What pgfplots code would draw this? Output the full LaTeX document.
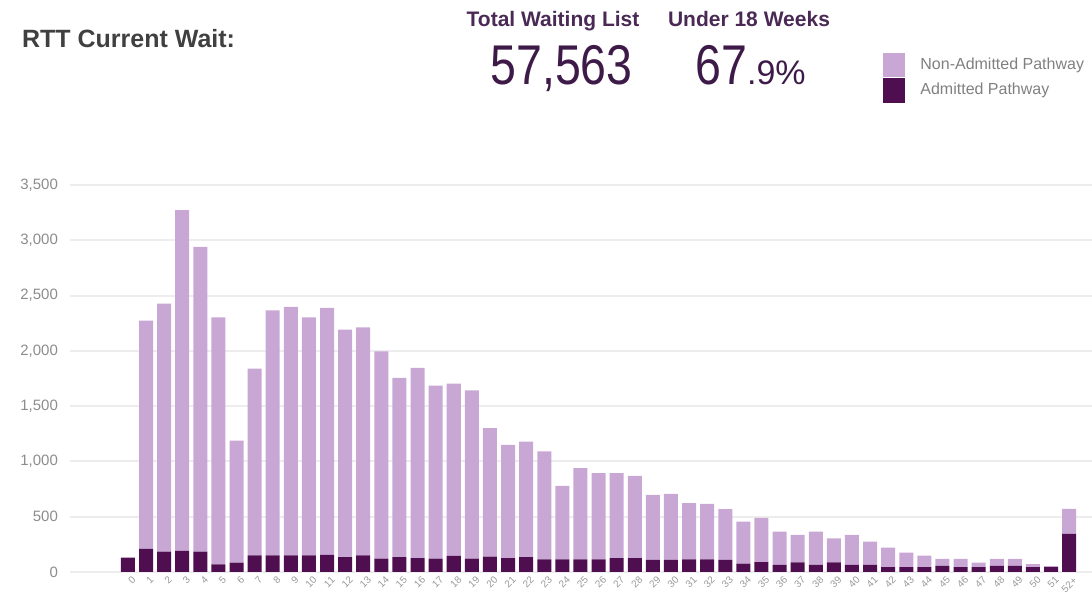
\documentclass[border=0pt]{standalone}
\usepackage{fontspec}
\setmainfont{Liberation Sans}
\usepackage{graphicx}
\usepackage{pgfplots}
\usepackage{pgfplotstable}
\pgfplotsset{compat=1.18}

\definecolor{nonadm}{HTML}{C9A7D4}
\definecolor{adm}{HTML}{4E0E50}
\definecolor{titlepurple}{HTML}{4A2A55}
\definecolor{numpurple}{HTML}{3E1A48}

\pgfplotstableread{
i adm non
0 130 0
1 210 2063
2 185 2242
3 190 3083
4 185 2756
5 70 2233
6 85 1104
7 150 1689
8 150 2217
9 150 2248
10 150 2153
11 155 2233
12 135 2057
13 150 2063
14 120 1876
15 135 1620
16 125 1720
17 120 1565
18 145 1558
19 120 1523
20 140 1161
21 125 1025
22 135 1045
23 115 975
24 115 664
25 115 824
26 115 779
27 125 769
28 125 745
29 110 587
30 110 597
31 115 507
32 115 501
33 110 458
34 75 381
35 90 400
36 65 300
37 88 247
38 65 300
39 88 217
40 65 270
41 65 210
42 45 175
43 45 130
44 45 103
45 55 63
46 45 73
47 45 40
48 55 63
49 55 63
50 45 27
51 45 9
52 345 225
}\datatable

\begin{document}
\begin{tikzpicture}[x=1pt,y=1pt]
\path[use as bounding box] (0,0) rectangle (546,307.5);
\begin{axis}[
  at={(35pt,21.5pt)}, anchor=south west,
  scale only axis, width=511pt, height=193.5pt,
  xmin=-3.2, xmax=53.26, ymin=0, ymax=3500,
  ybar stacked, bar width=7pt,
  axis line style={draw=none}, major tick length=0pt,
  ymajorgrids, grid style={draw=black!7, line width=1pt},
  ytick={0,500,...,3500},
  /pgf/number format/assume math mode=true,
  /pgf/number format/1000 sep={,},
  yticklabel style={font=\fontsize{7.5}{8}\selectfont, text=black!45, xshift=-2.5pt},
  xtick={0,...,52},
  xticklabels={0,1,2,3,4,5,6,7,8,9,10,11,12,13,14,15,16,17,18,19,20,21,22,23,24,25,26,27,28,29,30,31,32,33,34,35,36,37,38,39,40,41,42,43,44,45,46,47,48,49,50,51,52+},
  xticklabel style={rotate=45, anchor=north east, font=\fontsize{5}{5}\selectfont, text=black!40, inner sep=0pt, yshift=-2.5pt},
]
\addplot[fill=adm, draw=none] table[x=i,y=adm]{\datatable};
\addplot[fill=nonadm, draw=none] table[x=i,y=non]{\datatable};
\end{axis}

\node[anchor=west, font=\bfseries\fontsize{12.5}{14}\selectfont, text=black!75] at (7.5,288) {RTT Current Wait:};
\node[anchor=base, font=\bfseries\fontsize{10.5}{12}\selectfont, text=titlepurple] at (276.5,294) {Total Waiting List};
\node[anchor=base, font=\bfseries\fontsize{10.5}{12}\selectfont, text=titlepurple] at (374.5,294) {Under 18 Weeks};
\node[anchor=base, text=numpurple, inner sep=0pt] at (280.75,265) {\scalebox{0.83}[1]{\fontsize{28}{30}\selectfont 57,563}};
\node[anchor=base west, text=numpurple, inner sep=0pt] at (347.5,265) {\scalebox{0.83}[1]{\fontsize{28}{30}\selectfont 67}\fontsize{17}{18}\selectfont.9\%};

\fill[nonadm] (441.5,269) rectangle (452.5,281);
\fill[adm] (441.5,256) rectangle (452.5,268.5);
\node[anchor=west, font=\fontsize{8}{9}\selectfont, text=black!50, inner sep=0pt] at (460,275) {Non-Admitted Pathway};
\node[anchor=west, font=\fontsize{8}{9}\selectfont, text=black!50, inner sep=0pt] at (460,262.5) {Admitted Pathway};
\end{tikzpicture}
\end{document}
